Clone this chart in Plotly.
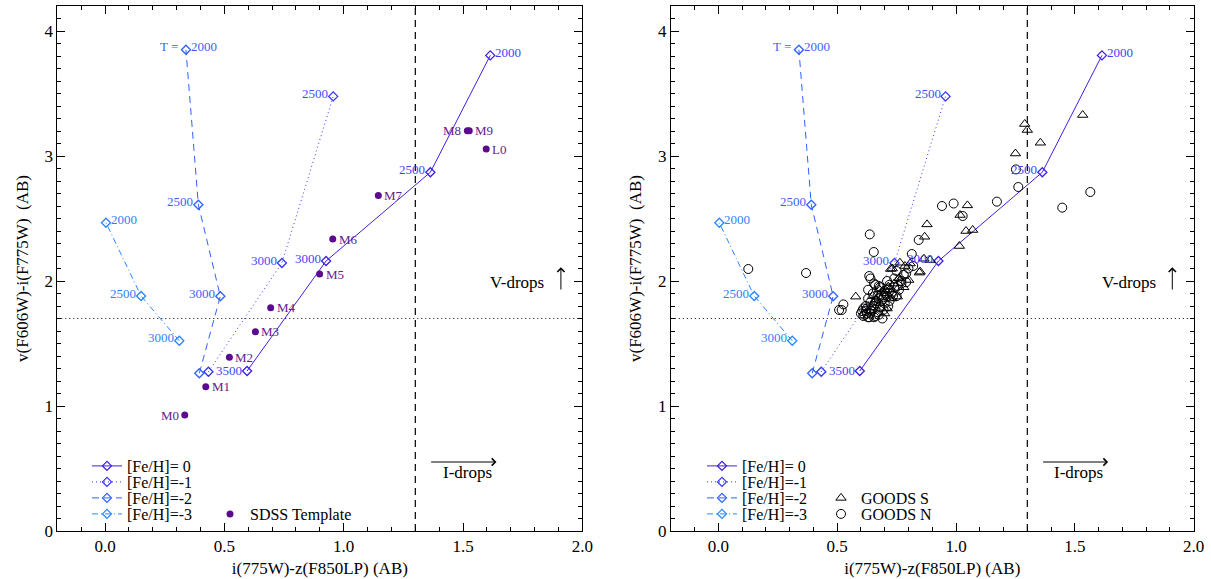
import plotly.graph_objects as go

# ---------------- data ----------------
# Model tracks (T_eff labels, i-z, v-i) for each metallicity
FE0_T = [3500, 3000, 2500, 2000]
FE0_X = [0.595, 0.926, 1.363, 1.614]
FE0_Y = [1.28, 2.16, 2.87, 3.805]

FE1_T = [3500, 3000, 2500]
FE1_X = [0.433, 0.741, 0.956]
FE1_Y = [1.274, 2.144, 3.477]

FE2_T = [3500, 3000, 2500, 2000]
FE2_X = [0.395, 0.483, 0.391, 0.339]
FE2_Y = [1.262, 1.878, 2.61, 3.85]

FE3_T = [3000, 2500, 2000]
FE3_X = [0.311, 0.151, 0.004]
FE3_Y = [1.522, 1.88, 2.466]

# SDSS templates
SDSS_NAMES = ["M0", "M1", "M2", "M3", "M4", "M5", "M6", "M7", "M8", "M9", "L0"]
SDSS_X = [0.334, 0.422, 0.521, 0.630, 0.694, 0.899, 0.954, 1.145, 1.518, 1.526, 1.597]
SDSS_Y = [0.928, 1.155, 1.390, 1.595, 1.787, 2.056, 2.336, 2.685, 3.203, 3.203, 3.056]

# GOODS S (triangles)
GS_X = [1.533, 1.289, 1.300, 1.355, 1.250, 1.048, 1.017, 1.042, 1.070, 0.878,
        0.868, 1.014, 0.849, 0.732, 0.891, 0.865, 0.764, 0.785, 0.807, 0.578,
        0.725, 0.846, 0.760, 0.801, 0.753, 0.677, 0.715, 0.660, 0.700, 0.720,
        0.740, 0.680, 0.760, 0.710, 0.730, 0.780, 0.690, 0.640, 0.650, 0.700]
GS_Y = [3.328, 3.256, 3.208, 3.106, 3.020, 2.605, 2.528, 2.400, 2.408, 2.453,
        2.354, 2.280, 2.075, 2.100, 2.168, 2.178, 2.146, 2.120, 2.140, 1.875,
        2.096, 2.067, 2.024, 2.008, 1.875, 1.933, 1.955, 1.850, 1.900, 1.930,
        1.980, 1.820, 2.020, 1.780, 1.860, 1.950, 1.920, 1.790, 1.880, 1.740]

# GOODS N (circles)
GN_X = [1.565, 1.447, 1.262, 1.252, 1.172, 0.990, 0.941, 1.028, 0.637, 0.654,
        0.843, 0.814, 0.126, 0.369, 0.508, 0.526, 0.519, 0.635, 0.655, 0.675,
        0.600, 0.610, 0.620, 0.630, 0.640, 0.620, 0.650, 0.660, 0.670, 0.640,
        0.660, 0.680, 0.690, 0.670, 0.700, 0.710, 0.720, 0.700, 0.730, 0.740,
        0.720, 0.750, 0.760, 0.770, 0.650, 0.630, 0.610, 0.680, 0.740, 0.780,
        0.800, 0.820, 0.790, 0.690, 0.630, 0.660, 0.710, 0.750, 0.640, 0.605,
        0.615, 0.625, 0.645, 0.655, 0.665, 0.675, 0.685, 0.695, 0.705, 0.715,
        0.625, 0.635, 0.655, 0.675, 0.695, 0.715, 0.735, 0.755, 0.770, 0.790]
GN_Y = [2.712, 2.587, 2.752, 2.893, 2.635, 2.620, 2.600, 2.520, 2.373, 2.232,
        2.328, 2.216, 2.096, 2.064, 1.768, 1.813, 1.768, 2.040, 1.980, 1.960,
        1.740, 1.720, 1.760, 1.710, 1.740, 1.800, 1.780, 1.720, 1.750, 1.830,
        1.820, 1.790, 1.850, 1.880, 1.820, 1.880, 1.840, 1.920, 1.900, 1.950,
        1.970, 1.880, 1.930, 1.980, 1.900, 1.860, 1.780, 1.950, 2.020, 2.050,
        2.100, 2.120, 1.990, 1.700, 1.930, 1.970, 2.000, 2.080, 2.020, 1.760,
        1.730, 1.780, 1.760, 1.800, 1.840, 1.860, 1.890, 1.870, 1.900, 1.940,
        1.740, 1.710, 1.710, 1.730, 1.770, 1.800, 1.880, 1.960, 2.000, 2.060]

I_DROP_CUT = 1.3
V_DROP_CUT = 1.7

X_TICKS = [0.0, 0.5, 1.0, 1.5, 2.0]
X_TICK_LABELS = ["0.0", "0.5", "1.0", "1.5", "2.0"]
Y_TICKS = [0, 1, 2, 3, 4]
Y_TICK_LABELS = ["0", "1", "2", "3", "4"]

# ---------------- styles ----------------
SERIF = "Liberation Serif, Times New Roman, serif"
MODELS = [
    dict(name="[Fe/H]= 0", t=FE0_T, x=FE0_X, y=FE0_Y, color="#3F1FE6", dash="solid",
         txt="#3F3FFF", sides={3500: "l", 3000: "l", 2500: "l", 2000: "r"}),
    dict(name="[Fe/H]=-1", t=FE1_T, x=FE1_X, y=FE1_Y, color="#3535FF", dash="1px,3px",
         txt="#3F4FFF", sides={3000: "l", 2500: "l"}),
    dict(name="[Fe/H]=-2", t=FE2_T, x=FE2_X, y=FE2_Y, color="#2F62FF", dash="7px,5px",
         txt="#3F5FFF", sides={3000: "l", 2500: "l", 2000: "T"}),
    dict(name="[Fe/H]=-3", t=FE3_T, x=FE3_X, y=FE3_Y, color="#2A86FF", dash="6px,3px,1px,3px",
         txt="#2F7FFF", sides={3000: "l", 2500: "l", 2000: "r"}),
]
SDSS_COLOR = "#5A0C8C"
SDSS_TXT = "#64208C"

H = 579
W = 1211
ROW_Y = [466, 482, 498, 514]   # legend row centres (pixels from top)

fig = go.Figure()
annotations = []
shapes = []
legends = {}
legend_counter = [0]


def new_legend(px, py):
    legend_counter[0] += 1
    key = "legend" if legend_counter[0] == 1 else f"legend{legend_counter[0]}"
    legends[key] = dict(
        x=px / W, y=(H - py) / H, xanchor="left", yanchor="middle",
        bgcolor="rgba(0,0,0,0)", borderwidth=0,
        font=dict(family=SERIF, size=16, color="black"),
        itemwidth=30, tracegroupgap=0)
    return key


panels = [dict(xa="x", ya="y", lx=87, dx=210), dict(xa="x2", ya="y2", lx=702, dx=821)]

for pi, p in enumerate(panels):
    xa, ya = p["xa"], p["ya"]
    for mi, m in enumerate(MODELS):
        fig.add_trace(go.Scatter(
            x=m["x"], y=m["y"], mode="lines+markers", name=m["name"],
            xaxis=xa, yaxis=ya, legend=new_legend(p["lx"], ROW_Y[mi]),
            line=dict(color=m["color"], width=1, dash=m["dash"]),
            marker=dict(symbol="diamond-open", size=7, color=m["color"], line=dict(width=1.3)),
            hoverinfo="skip",
        ))
        for t, x, y in zip(m["t"], m["x"], m["y"]):
            side = m["sides"].get(t)
            if side is None:
                continue
            if side == "T":
                annotations.append(dict(x=x, y=y, xref=xa, yref=ya, text="T =", showarrow=False,
                                        xanchor="right", xshift=-6, yshift=3,
                                        font=dict(family=SERIF, size=13, color=m["txt"])))
                side = "r"
            annotations.append(dict(
                x=x, y=y, xref=xa, yref=ya, text=str(t), showarrow=False,
                xanchor="right" if side == "l" else "left",
                xshift=-3 if side == "l" else 3, yshift=1 if t == 3500 else 3,
                font=dict(family=SERIF, size=13, color=m["txt"])))

    if pi == 0:
        fig.add_trace(go.Scatter(
            x=SDSS_X, y=SDSS_Y, mode="markers", name="SDSS Template",
            xaxis=xa, yaxis=ya, legend=new_legend(p["dx"], ROW_Y[3]),
            marker=dict(symbol="circle", size=7, color=SDSS_COLOR), hoverinfo="skip"))
        for n, x, y in zip(SDSS_NAMES, SDSS_X, SDSS_Y):
            left = n in ("M0", "M8")
            annotations.append(dict(
                x=x, y=y, xref=xa, yref=ya, text=n, showarrow=False,
                xanchor="right" if left else "left", xshift=-4 if left else 4, yshift=0,
                font=dict(family=SERIF, size=13, color=SDSS_TXT)))
    else:
        fig.add_trace(go.Scatter(
            x=GS_X, y=GS_Y, mode="markers", name="GOODS S",
            xaxis=xa, yaxis=ya, legend=new_legend(p["dx"], ROW_Y[2]),
            marker=dict(symbol="triangle-up-open", size=9, color="black", line=dict(width=1)),
            hoverinfo="skip"))
        fig.add_trace(go.Scatter(
            x=GN_X, y=GN_Y, mode="markers", name="GOODS N",
            xaxis=xa, yaxis=ya, legend=new_legend(p["dx"], ROW_Y[3]),
            marker=dict(symbol="circle-open", size=9, color="black", line=dict(width=1)),
            hoverinfo="skip"))

    # selection cuts
    shapes.append(dict(type="line", xref=xa, yref=f"{ya} domain", x0=I_DROP_CUT, x1=I_DROP_CUT,
                       y0=0, y1=1, line=dict(color="black", width=1.2, dash="7px,5px")))
    shapes.append(dict(type="line", xref=f"{xa} domain", yref=ya, x0=0, x1=1,
                       y0=V_DROP_CUT, y1=V_DROP_CUT, line=dict(color="black", width=1, dash="1px,3px")))

    # V-drops / I-drops labels with arrows
    annotations.append(dict(x=1.91, y=2.11, ax=1.91, ay=1.92, xref=xa, yref=ya, axref=xa, ayref=ya,
                            text="", showarrow=True, arrowhead=4, arrowsize=1.4, arrowwidth=1, arrowcolor="black"))
    annotations.append(dict(x=1.726, y=1.99, xref=xa, yref=ya, text="V-drops", showarrow=False,
                            font=dict(family=SERIF, size=17, color="black")))
    annotations.append(dict(x=1.64, y=0.552, ax=1.36, ay=0.552, xref=xa, yref=ya, axref=xa, ayref=ya,
                            text="", showarrow=True, arrowhead=4, arrowsize=1.4, arrowwidth=1, arrowcolor="black"))
    annotations.append(dict(x=1.517, y=0.47, xref=xa, yref=ya, text="I-drops", showarrow=False,
                            font=dict(family=SERIF, size=17, color="black")))

axis_common = dict(
    showline=True, linecolor="black", linewidth=1, mirror="allticks",
    ticks="inside", ticklen=8, tickwidth=1, tickcolor="black",
    showgrid=False, zeroline=False, automargin=False,
    tickfont=dict(family=SERIF, size=17, color="black"),
)
xcommon = dict(axis_common, range=[-0.2, 2.0], tickvals=X_TICKS, ticktext=X_TICK_LABELS,
               minor=dict(ticks="inside", ticklen=4, dtick=0.1, tick0=0, tickcolor="black", showgrid=False),
               title=dict(text="i(775W)-z(F850LP) (AB)", font=dict(family=SERIF, size=17, color="black"), standoff=6))
ycommon = dict(axis_common, range=[0, 4.2], tickvals=Y_TICKS, ticktext=Y_TICK_LABELS,
               minor=dict(ticks="inside", ticklen=4, dtick=0.1, tick0=0, tickcolor="black", showgrid=False),
               title=dict(text="v(F606W)-i(F775W)  (AB)", font=dict(family=SERIF, size=17, color="black"), standoff=11))

ydom = [(H - 531) / H, (H - 6) / H]

fig.update_layout(
    width=W, height=H,
    margin=dict(l=0, r=0, t=0, b=0, autoexpand=False),
    paper_bgcolor="white", plot_bgcolor="white",
    showlegend=True,
    xaxis=dict(xcommon, domain=[57.3 / W, 582.4 / W], anchor="y"),
    yaxis=dict(ycommon, domain=ydom, anchor="x"),
    xaxis2=dict(xcommon, domain=[670.8 / W, 1193.7 / W], anchor="y2"),
    yaxis2=dict(ycommon, domain=ydom, anchor="x2"),
    annotations=annotations,
    shapes=shapes,
    **legends,
)

fig.write_html("out.html")
